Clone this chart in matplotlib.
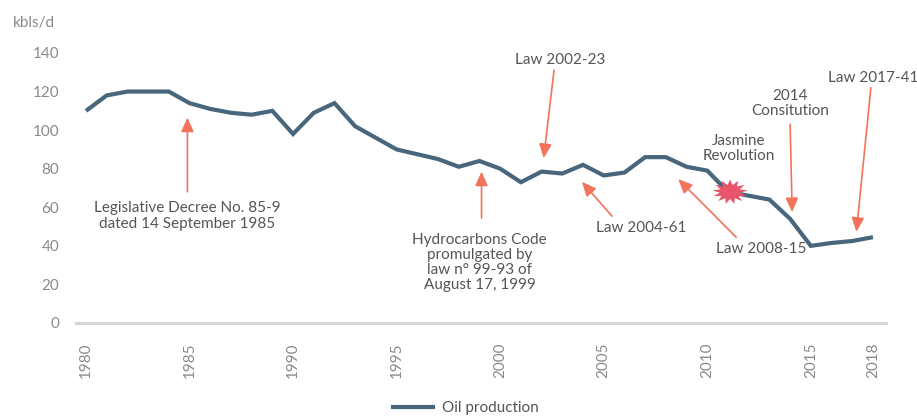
"""
Oil production with legislative milestones (kbls/d).
Writes: out.png
"""
import matplotlib.pyplot as plt
import matplotlib.lines as mlines
from matplotlib.path import Path
import numpy as np

LINE_COLOR = "#48667c"
ARROW_COLOR = "#f2735a"
STAR_COLOR = "#e8546c"
TEXT_COLOR = "#555555"
TICK_COLOR = "#8a8a8a"

plt.rcParams.update({
    "font.family": ["Lato", "DejaVu Sans"],
    "font.size": 11,
})

years = list(range(1980, 2019))
production = [110, 118, 120, 120, 120, 114, 111, 109, 108, 110,
              98, 109, 114, 102, 96, 90, 87.5, 85, 81, 84,
              80, 73, 78.5, 77.5, 82, 76.5, 78, 86, 86, 81,
              79, 68, 66, 64, 54, 40, 41.5, 42.5, 44.5]

year_ticks = [1980, 1985, 1990, 1995, 2000, 2005, 2010, 2015, 2018]
value_ticks = [0, 20, 40, 60, 80, 100, 120, 140]

event_labels = [
    "Legislative Decree No. 85-9\ndated 14 September 1985",
    "Hydrocarbons Code\npromulgated by\nlaw n° 99-93 of\nAugust 17, 1999",
    "Law 2002-23",
    "Law 2004-61",
    "Law 2008-15",
    "2014\nConsitution",
    "Law 2017-41",
]
revolution_label = "Jasmine\nRevolution"
revolution_year = 2011.1

# (text x, text y, arrow tail, arrow head) in data coords
layout = [
    ((1984.9, 55.5), (1984.9, 68), (1984.9, 106.5)),
    ((1999.0, 31.5), (1999.1, 54.5), (1999.1, 78.5)),
    ((2002.9, 136.3), (2002.6, 131), (2002.1, 85.5)),
    ((2006.8, 49.4), (2005.4, 55.4), (2003.95, 73.2)),
    ((2012.6, 38.3), (2011.4, 44.4), (2008.6, 74.6)),
    ((2014.0, 113.8), (2014.0, 103), (2014.1, 57.5)),
    ((2018.0, 127.0), (2017.9, 122), (2017.2, 47.3)),
]


def star_marker(n=13, inner=0.58, stretch=1.45):
    ang = np.linspace(0, 2 * np.pi, 2 * n, endpoint=False) + np.pi / (2 * n)
    rad = np.where(np.arange(2 * n) % 2 == 0, 1.0, inner)
    verts = np.column_stack([stretch * rad * np.cos(ang), rad * np.sin(ang)])
    verts = np.vstack([verts, verts[:1]])
    codes = [Path.MOVETO] + [Path.LINETO] * (2 * n - 1) + [Path.CLOSEPOLY]
    return Path(verts, codes)


def main():
    fig = plt.figure(figsize=(9.17, 4.16), dpi=100)
    ax = fig.add_axes([0.0829, 0.2236, 0.8833, 0.649])

    ax.plot(years, production, color=LINE_COLOR, lw=3, solid_capstyle="butt",
            solid_joinstyle="miter", zorder=3)

    ax.set_xlim(1979.52, 2018.63)
    ax.set_ylim(0, 140)
    ax.set_xticks(year_ticks)
    ax.set_xticklabels([str(y) for y in year_ticks], rotation=90)
    ax.set_yticks(value_ticks)
    ax.tick_params(axis="both", length=0, colors=TICK_COLOR, labelsize=11)
    ax.tick_params(axis="x", pad=14)
    ax.tick_params(axis="y", pad=12)
    for side in ("top", "right", "left"):
        ax.spines[side].set_visible(False)
    ax.spines["bottom"].set_color("#d4d4d4")
    ax.spines["bottom"].set_linewidth(2.2)

    fig.text(0.06, 0.945, "kbls/d", ha="right", va="center",
             color=TICK_COLOR, fontsize=11)

    for label, (txt, tail, head) in zip(event_labels, layout):
        ax.annotate("", xy=head, xytext=tail,
                    arrowprops=dict(arrowstyle="-|>,head_length=0.85,head_width=0.38",
                                    color=ARROW_COLOR, lw=1.2, mutation_scale=10,
                                    shrinkA=0, shrinkB=0),
                    annotation_clip=False, zorder=4)
        ax.text(txt[0], txt[1], label, ha="center", va="center",
                color=TEXT_COLOR, fontsize=11, linespacing=1.1,
                clip_on=False, zorder=5)

    ax.text(2011.5, 90.5, revolution_label, ha="center", va="center",
            color=TEXT_COLOR, fontsize=11, linespacing=1.1, zorder=5)
    rev_idx = years.index(2011)
    ax.scatter([revolution_year], [production[rev_idx]], marker=star_marker(),
               s=650, color=STAR_COLOR, edgecolors="none", zorder=6)

    handle = mlines.Line2D([], [], color=LINE_COLOR, lw=3)
    fig.legend(handles=[handle], labels=["Oil production"], loc="center",
               bbox_to_anchor=(0.508, 0.019), frameon=False, fontsize=11,
               handlelength=2.6, handletextpad=0.6, labelcolor=TEXT_COLOR)

    fig.savefig("out.png", dpi=100)
    plt.close(fig)


if __name__ == "__main__":
    main()
